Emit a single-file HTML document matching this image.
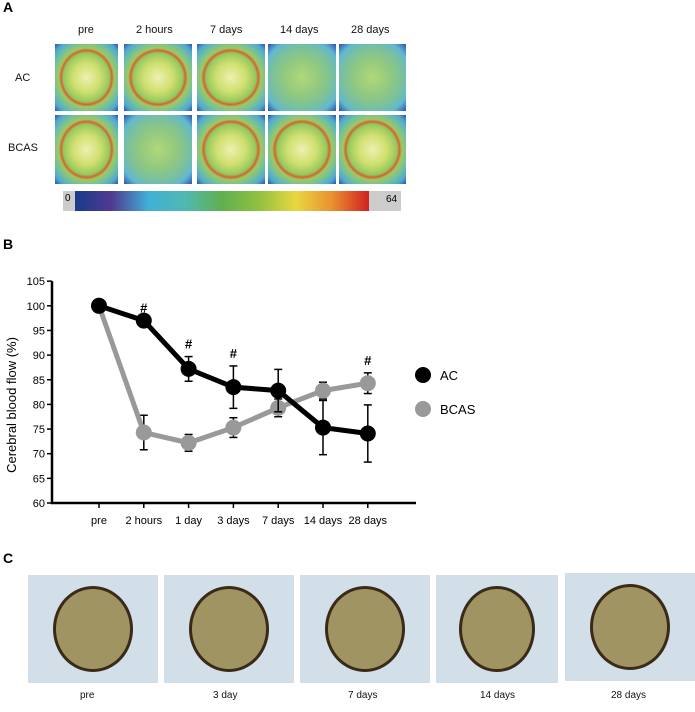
<!DOCTYPE html>
<html><head><meta charset="utf-8"><style>
body{margin:0;width:695px;height:712px;background:#fff;font-family:"Liberation Sans",Arial,sans-serif;position:relative;overflow:hidden}
.abs{position:absolute}
.lbl{font-size:11px;color:#111}
.heat{position:absolute;background:radial-gradient(ellipse farthest-corner at 50% 50%,#eef0b0 0%,#d0e070 30%,#a0cc60 48%,#90c860 52%,#d86030 57%,#a0c860 62%,#70c0a0 75%,#50a8d0 88%,#3050b0 100%)}
.heat.cool{background:radial-gradient(ellipse farthest-corner at 50% 50%,#b0d878 0%,#90c880 40%,#78c0a0 65%,#60b8d0 82%,#3050b0 100%)}
.dish{position:absolute;background:#d3dfe8}
.dish div{position:absolute;left:19%;top:10%;width:62%;height:80%;border-radius:50%;background:#a09462;border:3px solid #3a2a18;box-sizing:border-box}
</style></head><body>
<div class="abs" style="left:3px;top:-1px;font-weight:bold;font-size:14px">A</div>
<div class="abs lbl" style="left:78px;top:24px">pre</div>
<div class="abs lbl" style="left:136px;top:24px">2 hours</div>
<div class="abs lbl" style="left:210px;top:24px">7 days</div>
<div class="abs lbl" style="left:280px;top:24px">14 days</div>
<div class="abs lbl" style="left:351px;top:24px">28 days</div>
<div class="abs lbl" style="left:15px;top:72px">AC</div>
<div class="abs lbl" style="left:8px;top:142px">BCAS</div>
<div class="heat" style="left:55px;top:44px;width:63px;height:67px"></div>
<div class="heat" style="left:124px;top:44px;width:68px;height:67px"></div>
<div class="heat" style="left:197px;top:44px;width:68px;height:67px"></div>
<div class="heat cool" style="left:268px;top:44px;width:68px;height:67px"></div>
<div class="heat cool" style="left:339px;top:44px;width:67px;height:67px"></div>
<div class="heat" style="left:55px;top:115px;width:63px;height:69px"></div>
<div class="heat cool" style="left:124px;top:115px;width:68px;height:69px"></div>
<div class="heat" style="left:197px;top:115px;width:68px;height:69px"></div>
<div class="heat" style="left:268px;top:115px;width:68px;height:69px"></div>
<div class="heat" style="left:339px;top:115px;width:67px;height:69px"></div>
<div class="abs" style="left:63px;top:191px;width:338px;height:20px;background:#ccc">
<div class="abs" style="left:12px;top:0;width:294px;height:20px;background:linear-gradient(90deg,#1a3a8a,#503a90,#40b0d8,#50b8b0,#60b050,#90c040,#e8d840,#e89030,#d02020)"></div>
<div class="abs" style="left:2px;top:2px;font-size:10px">0</div>
<div class="abs" style="left:323px;top:3px;font-size:10px">64</div>
</div>
<div class="abs" style="left:3px;top:236px;font-weight:bold;font-size:14px">B</div>
<svg class="abs" style="left:0;top:0" width="695" height="712">
<g id="axes"></g><g id="plot"></g>
<text x="16" y="405" transform="rotate(-90 16 405)" text-anchor="middle" font-size="13">Cerebral blood flow   (%)</text>
<circle cx="423" cy="375" r="8" fill="#000"/>
<text x="440" y="380" font-size="13">AC</text>
<circle cx="423" cy="409" r="8" fill="#999"/>
<text x="440" y="414" font-size="13">BCAS</text>
</svg>
<div class="abs" style="left:3px;top:550px;font-weight:bold;font-size:14px">C</div>
<div class="dish" style="left:28px;top:575px;width:130px;height:108px"><div></div></div>
<div class="dish" style="left:164px;top:575px;width:130px;height:108px"><div></div></div>
<div class="dish" style="left:300px;top:575px;width:130px;height:108px"><div></div></div>
<div class="dish" style="left:436px;top:575px;width:122px;height:108px"><div></div></div>
<div class="dish" style="left:565px;top:573px;width:130px;height:108px"><div></div></div>
<div class="abs lbl" style="left:80px;top:690px;font-size:10px">pre</div>
<div class="abs lbl" style="left:213px;top:690px;font-size:10px">3 day</div>
<div class="abs lbl" style="left:348px;top:690px;font-size:10px">7 days</div>
<div class="abs lbl" style="left:480px;top:690px;font-size:10px">14 days</div>
<div class="abs lbl" style="left:611px;top:690px;font-size:10px">28 days</div>
<script>
const categories=["pre","2 hours","1 day","3 days","7 days","14 days","28 days"];
const acValues=[100,97,87.2,83.5,82.8,75.3,74.1];
const acErrors=[0,0,2.5,4.3,4.3,5.5,5.8];
const bcasValues=[100,74.3,72.2,75.3,79.3,82.8,84.3];
const bcasErrors=[0,3.5,1.7,2.0,1.8,1.7,2.1];
const yTicks=[60,65,70,75,80,85,90,95,100,105];
const sigFlags=[0,1,1,1,0,0,1];
const NS="http://www.w3.org/2000/svg";
const x=i=>99+i*44.8;
const y=v=>503-(v-60)*4.93;
function mk(t,a,p){const e=document.createElementNS(NS,t);for(const k in a)e.setAttribute(k,a[k]);p.appendChild(e);return e;}
const ax=document.getElementById('axes'),pl=document.getElementById('plot');
const yl=mk('line',{x1:52,y1:y(105),x2:52,y2:504,stroke:'#000','stroke-width':2.5},ax);


const xl=mk('line',{x1:51,y1:503,x2:416,y2:503,stroke:'#000','stroke-width':2.5},ax);


yTicks.forEach(t=>{mk('line',{x1:47,y1:y(t),x2:52,y2:y(t),stroke:'#000','stroke-width':1.5},ax);
const tx=mk('text',{x:45,y:y(t)+4,'text-anchor':'end','font-size':11},ax);tx.textContent=t;

});
categories.forEach((c,i)=>{mk('line',{x1:x(i),y1:503,x2:x(i),y2:508,stroke:'#000','stroke-width':1.5},ax);
const tx=mk('text',{x:x(i),y:524,'text-anchor':'middle','font-size':11},ax);tx.textContent=c;

});
function series(vals,errs,col,name){
const g=mk('g',{},pl);


vals.forEach((v,i)=>{if(errs[i]>0){mk('line',{x1:x(i),y1:y(v-errs[i]),x2:x(i),y2:y(v+errs[i]),stroke:'#000','stroke-width':1.5},g);
[v-errs[i],v+errs[i]].forEach(e=>mk('line',{x1:x(i)-4,y1:y(e),x2:x(i)+4,y2:y(e),stroke:'#000','stroke-width':1.5},g));}});
mk('polyline',{points:vals.map((v,i)=>x(i)+','+y(v)).join(' '),fill:'none',stroke:col,'stroke-width':5},g);
vals.forEach((v,i)=>{const c=mk('circle',{cx:x(i),cy:y(v),r:8,fill:col},g);

});}
series(bcasValues,bcasErrors,'#999','bcas');
series(acValues,acErrors,'#000','ac');
sigFlags.forEach((s,i)=>{if(!s)return;const top=Math.max(acValues[i]+acErrors[i],bcasValues[i]+bcasErrors[i]);
const t=mk('text',{x:x(i),y:y(top)-8,'text-anchor':'middle','font-size':13,'font-weight':'bold'},pl);t.textContent='#';

});
</script>
</body></html>
